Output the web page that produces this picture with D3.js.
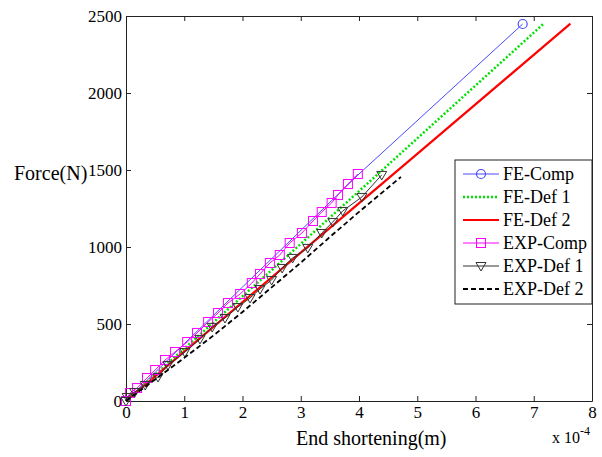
<!DOCTYPE html>
<html>
<head>
<meta charset="utf-8">
<script src="https://cdn.jsdelivr.net/npm/d3@7"></script>
<style>
  body { margin: 0; background: #fff; }
  text { font-family: "Liberation Serif", "Times New Roman", serif; fill: #000; }
</style>
</head>
<body>
<div id="chart"></div>
<script>
// x values are in units of 1e-4 m (axis shows "x 10^-4")
const xTicks = [0, 1, 2, 3, 4, 5, 6, 7, 8];
const yTicks = [0, 500, 1000, 1500, 2000, 2500];

const feCompX = [0, 1, 2, 4, 6.81];
const feCompY = [0, 372, 740, 1474, 2448];
const feDef1X = [0, 1, 3, 5, 7.17];
const feDef1Y = [0, 340, 1020, 1705, 2450];
const feDef2X = [0, 1, 3, 5, 7.63];
const feDef2Y = [0, 321, 963, 1605, 2450];

const expCompX = [0, 0.07, 0.19, 0.36, 0.50, 0.67, 0.84, 1.05, 1.22, 1.41, 1.58, 1.75, 1.96,
  2.16, 2.30, 2.47, 2.64, 2.81, 3.02, 3.21, 3.36, 3.53, 3.64, 3.81, 3.98];
const expCompY = [0, 52, 84, 149, 201, 266, 318, 383, 442, 513, 571, 636, 695,
  766, 825, 896, 948, 1026, 1091, 1169, 1227, 1286, 1338, 1409, 1474];

const expDef1X = [0, 0.02, 0.15, 0.33, 0.55, 0.72, 1.01, 1.27, 1.48, 1.70, 1.92, 2.13, 2.30,
  2.50, 2.68, 2.86, 3.12, 3.36, 3.55, 3.72, 4.05, 4.39];
const expDef1Y = [0, 26, 58, 104, 156, 234, 318, 403, 481, 539, 610, 669, 727,
  786, 864, 929, 994, 1091, 1162, 1234, 1325, 1468];

const expDef2X = [0, 0.5, 1, 1.5, 2, 2.5, 3, 3.5, 4, 4.72];
const expDef2Y = [0, 140, 280, 425, 578, 738, 898, 1065, 1228, 1455];

const W = 602, H = 457;
const plotL = 126, plotR = 592, plotT = 16, plotB = 401;
const serif = '"Liberation Serif", "Times New Roman", serif';

const x = d3.scaleLinear().domain([0, 8]).range([plotL, plotR]);
const y = d3.scaleLinear().domain([0, 2500]).range([plotB, plotT]);

const svg = d3.select("#chart")
  .append("svg")
  .attr("width", W)
  .attr("height", H);

const zip = (xs, ys) => xs.map((v, i) => [v, ys[i]]);

const series = [
  { name: "FE-Comp", pts: zip(feCompX, feCompY), color: "#4a4aff", width: 1, dash: null, marker: "circleEnd" },
  { name: "FE-Def 1", pts: zip(feDef1X, feDef1Y), color: "#00e000", width: 2.5, dash: "2,2", marker: null },
  { name: "FE-Def 2", pts: zip(feDef2X, feDef2Y), color: "#ff0000", width: 2.2, dash: null, marker: null },
  { name: "EXP-Comp", pts: zip(expCompX, expCompY), color: "#ff00ff", width: 1, dash: null, marker: "square" },
  { name: "EXP-Def 1", pts: zip(expDef1X, expDef1Y), color: "#333", width: 1, dash: null, marker: "triangle" },
  { name: "EXP-Def 2", pts: zip(expDef2X, expDef2Y), color: "#000", width: 1.8, dash: "5,3", marker: null }
];

// axes
const styleTicks = g => {
  g.attr("font-family", serif).attr("font-size", 17);
  g.selectAll("text")
    .style("font-family", serif)
    .style("font-size", "17px")
    .attr("fill", "#000");
};

svg.append("g")
  .attr("transform", `translate(0,${plotB})`)
  .call(d3.axisBottom(x).tickValues(xTicks).tickFormat(d => d).tickSize(-5).tickSizeOuter(0).tickPadding(5))
  .call(styleTicks);

svg.append("g")
  .attr("transform", `translate(${plotL},0)`)
  .call(d3.axisLeft(y).tickValues(yTicks).tickFormat(d => d).tickSize(-5).tickSizeOuter(0).tickPadding(4))
  .call(styleTicks);

svg.append("g")
  .attr("transform", `translate(0,${plotT})`)
  .call(d3.axisTop(x).tickValues(xTicks).tickSize(-5).tickSizeOuter(0).tickFormat(""));
svg.append("g")
  .attr("transform", `translate(${plotR},0)`)
  .call(d3.axisRight(y).tickValues(yTicks).tickSize(-5).tickSizeOuter(0).tickFormat(""));

svg.selectAll(".domain, .tick line").attr("stroke", "#222");

// lines
const line = d3.line().x(d => x(d[0])).y(d => y(d[1]));

const markerShape = (g, type, color, px, py) => {
  if (type === "square") {
    g.append("rect").attr("x", px - 4.5).attr("y", py - 4.5)
      .attr("width", 9).attr("height", 9)
      .attr("fill", "none").attr("stroke", color).attr("stroke-width", 1);
  } else if (type === "triangle") {
    g.append("path")
      .attr("d", `M${px - 5},${py - 3.5}L${px + 5},${py - 3.5}L${px},${py + 5}Z`)
      .attr("fill", "none").attr("stroke", color).attr("stroke-width", 1);
  } else if (type === "circle") {
    g.append("circle").attr("cx", px).attr("cy", py).attr("r", 4.5)
      .attr("fill", "none").attr("stroke", color).attr("stroke-width", 1.2);
  }
};

series.forEach(s => {
  const g = svg.append("g");
  g.append("path")
    .datum(s.pts)
    .attr("d", line)
    .attr("fill", "none")
    .attr("stroke", s.color)
    .attr("stroke-width", s.width)
    .attr("stroke-dasharray", s.dash);
  if (s.marker === "circleEnd") {
    const last = s.pts[s.pts.length - 1];
    markerShape(g, "circle", s.color, x(last[0]), y(last[1]));
  } else if (s.marker) {
    s.pts.forEach(p => markerShape(g, s.marker, s.color, x(p[0]), y(p[1])));
  }
});

// legend
const lg = svg.append("g");
lg.append("rect")
  .attr("x", 455).attr("y", 160)
  .attr("width", plotR - 455).attr("height", 144)
  .attr("fill", "#fff").attr("stroke", "#222");

series.forEach((s, i) => {
  const ly = 174 + i * 23;
  lg.append("line")
    .attr("x1", 463).attr("x2", 499).attr("y1", ly).attr("y2", ly)
    .attr("stroke", s.color).attr("stroke-width", s.width)
    .attr("stroke-dasharray", s.dash);
  if (s.marker === "circleEnd") markerShape(lg, "circle", s.color, 481, ly);
  else if (s.marker) markerShape(lg, s.marker, s.color, 481, ly);
  lg.append("text")
    .attr("x", 503).attr("y", ly + 6)
    .style("font-size", "18px")
    .text(s.name);
});

// axis labels
svg.append("text")
  .attr("x", 14).attr("y", 180)
  .style("font-size", "20px")
  .text("Force(N)");

svg.append("text")
  .attr("x", 296).attr("y", 445)
  .style("font-size", "20px")
  .text("End shortening(m)");

const exp = svg.append("text")
  .attr("x", 552).attr("y", 443)
  .style("font-size", "16px");
exp.append("tspan").text("x 10");
exp.append("tspan").attr("dy", -8).style("font-size", "12px").text("-4");
</script>
</body>
</html>
